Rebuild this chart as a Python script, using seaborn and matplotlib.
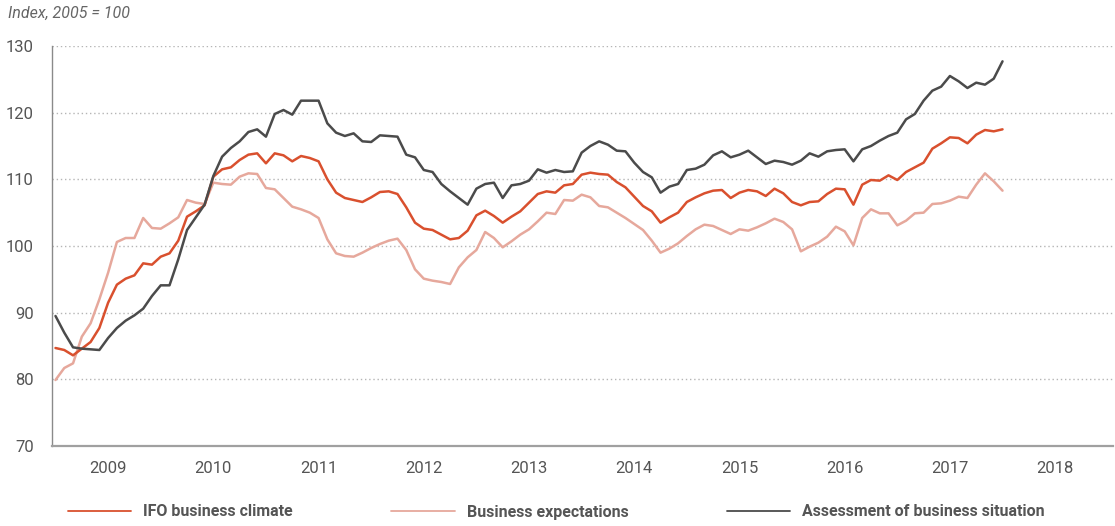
import matplotlib
matplotlib.use("Agg")
import matplotlib.pyplot as plt
import numpy as np
import pandas as pd
import seaborn as sns

# Monthly index values, Jan 2009 .. Jan 2018 (2005 = 100)
climate = [
    84.7, 84.4, 83.6, 84.6, 85.6, 87.7, 91.5, 94.2, 95.1, 95.6, 97.4, 97.2,
    98.4, 98.9, 100.8, 104.4, 105.2, 106.1, 110.4, 111.5, 111.8, 112.9, 113.7, 113.9,
    112.4, 113.9, 113.6, 112.7, 113.5, 113.2, 112.7, 110.0, 108.0, 107.2, 106.9, 106.6,
    107.3, 108.1, 108.2, 107.8, 105.8, 103.5, 102.6, 102.4, 101.7, 101.0, 101.2, 102.3,
    104.6, 105.3, 104.5, 103.5, 104.4, 105.2, 106.5, 107.8, 108.2, 108.0, 109.1, 109.3,
    110.7, 111.0, 110.8, 110.7, 109.6, 108.8, 107.4, 106.0, 105.2, 103.5, 104.3, 105.0,
    106.6, 107.3, 107.9, 108.3, 108.4, 107.2, 108.0, 108.4, 108.2, 107.5, 108.6, 107.9,
    106.6, 106.1, 106.6, 106.7, 107.8, 108.6, 108.5, 106.2, 109.2, 109.9, 109.8, 110.6,
    109.9, 111.1, 111.8, 112.5, 114.6, 115.4, 116.3, 116.2, 115.4, 116.7, 117.4, 117.2,
    117.5,
]
expectations = [
    79.9, 81.7, 82.4, 86.4, 88.4, 92.0, 96.0, 100.6, 101.2, 101.2, 104.2, 102.7,
    102.6, 103.4, 104.3, 106.9, 106.5, 106.3, 109.5, 109.3, 109.2, 110.4, 110.9, 110.8,
    108.7, 108.5, 107.2, 105.9, 105.5, 105.0, 104.2, 101.0, 98.9, 98.5, 98.4, 99.0,
    99.7, 100.3, 100.8, 101.1, 99.4, 96.5, 95.1, 94.8, 94.6, 94.3, 96.8, 98.3,
    99.4, 102.1, 101.2, 99.8, 100.7, 101.7, 102.5, 103.7, 105.0, 104.8, 106.9, 106.8,
    107.7, 107.3, 106.0, 105.8, 105.0, 104.2, 103.3, 102.4, 100.8, 99.0, 99.6, 100.4,
    101.5, 102.5, 103.2, 103.0, 102.4, 101.8, 102.5, 102.3, 102.8, 103.4, 104.1, 103.6,
    102.5, 99.2, 99.9, 100.5, 101.4, 102.9, 102.2, 100.1, 104.2, 105.5, 104.9, 104.9,
    103.1, 103.8, 104.9, 105.0, 106.3, 106.4, 106.8, 107.4, 107.2, 109.2, 110.9, 109.7,
    108.3,
]
situation = [
    89.5, 87.0, 84.8, 84.6, 84.5, 84.4, 86.2, 87.7, 88.8, 89.6, 90.6, 92.5,
    94.1, 94.1, 98.0, 102.4, 104.3, 106.2, 110.5, 113.4, 114.7, 115.7, 117.1, 117.5,
    116.4, 119.8, 120.4, 119.7, 121.8, 121.8, 121.8, 118.4, 117.0, 116.5, 116.9, 115.7,
    115.6, 116.6, 116.5, 116.4, 113.7, 113.3, 111.4, 111.1, 109.3, 108.2, 107.2, 106.2,
    108.6, 109.3, 109.5, 107.2, 109.1, 109.3, 109.8, 111.5, 111.0, 111.4, 111.1, 111.2,
    114.0, 115.0, 115.7, 115.2, 114.3, 114.2, 112.5, 111.1, 110.3, 108.0, 108.9, 109.3,
    111.4, 111.6, 112.2, 113.6, 114.2, 113.3, 113.7, 114.3, 113.3, 112.3, 112.8, 112.6,
    112.2, 112.8, 113.9, 113.4, 114.2, 114.4, 114.5, 112.7, 114.5, 115.0, 115.8, 116.5,
    117.0, 119.0, 119.8, 121.8, 123.3, 123.9, 125.5, 124.7, 123.7, 124.5, 124.2, 125.1,
    127.7,
]
series_names = ["IFO business climate", "Business expectations",
                "Assessment of business situation"]
series_colors = ["#d9502e", "#e6a89c", "#4b4b4b"]
year_labels = [str(y) for y in range(2009, 2019)]

months = np.arange(len(climate))
df = pd.concat([
    pd.DataFrame({"month": months, "value": vals, "series": name})
    for name, vals in zip(series_names, [climate, expectations, situation])
], ignore_index=True)

sns.set_theme(style="white")
plt.rcParams["font.family"] = ["Roboto", "DejaVu Sans"]

fig = plt.figure(figsize=(11.15, 5.26), dpi=100)
ax = fig.add_axes([52 / 1115, 80 / 526, 1061 / 1115, 400 / 526])

sns.lineplot(data=df, x="month", y="value", hue="series",
             hue_order=series_names, palette=dict(zip(series_names, series_colors)),
             linewidth=1.8, ax=ax, legend=True)

# layering: expectations underneath, situation on top
for line, z in zip(ax.get_lines()[:3], [3, 2, 4]):
    line.set_zorder(z)

ax.set_xlim(-0.4, 120.6)
ax.set_ylim(70, 130)
ax.set_yticks(range(70, 131, 10))
ax.set_xticks([6 + 12 * i for i in range(len(year_labels))])
ax.set_xticklabels(year_labels)
ax.set_xlabel("")
ax.set_ylabel("")

ax.yaxis.grid(True, color="#b5b5b5", linestyle=(0, (1, 2)), linewidth=1.0)
ax.xaxis.grid(False)
ax.set_axisbelow(True)

for side in ["top", "right"]:
    ax.spines[side].set_visible(False)
ax.spines["left"].set_color("#8a8a8a")
ax.spines["left"].set_linewidth(1.0)
ax.spines["bottom"].set_color("#a0a0a0")
ax.spines["bottom"].set_linewidth(1.6)

ax.tick_params(axis="both", length=0, labelsize=12, labelcolor="#555555")
ax.tick_params(axis="y", pad=13)
ax.tick_params(axis="x", pad=11)

fig.text(8 / 1115, 1 - 13 / 526, "Index, 2005 = 100", ha="left", va="center",
         fontsize=11.5, style="italic", color="#666666")

handles, labels = ax.get_legend_handles_labels()
ax.get_legend().remove()
for h in handles:
    h.set_linewidth(1.3)
leg = fig.legend(handles, labels, loc="center", bbox_to_anchor=(0.499, 14 / 526),
                 ncol=3, frameon=False, handlelength=3.95, handletextpad=0.75,
                 columnspacing=6.2, prop={"size": 11.5, "weight": "bold"})
for t in leg.get_texts():
    t.set_color("#555555")

fig.savefig("out.png", dpi=100)
